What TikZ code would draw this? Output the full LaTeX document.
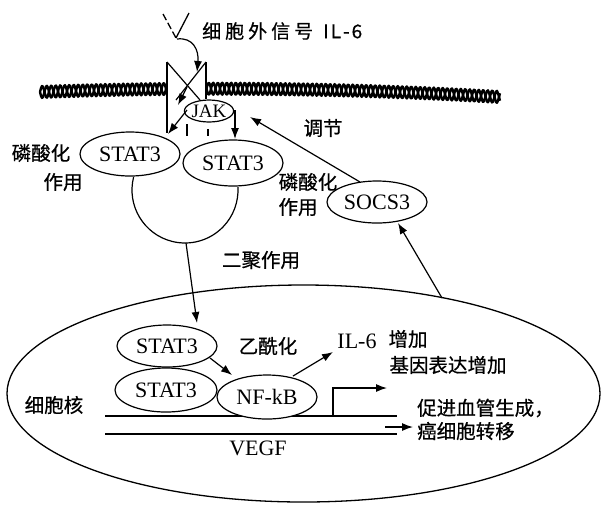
\documentclass[tikz,border=0pt]{standalone}
\usepackage{fontspec}
\setmainfont{Liberation Serif}
\newfontfamily\cjk{Noto Sans CJK SC}[FakeBold=0.6]
\usetikzlibrary{shapes.geometric,arrows.meta}

\tikzset{
  mol/.style={ellipse, draw, fill=white, line width=1.2pt, inner sep=0pt,
              font=\fontsize{22}{22}\selectfont},
  lbl/.style={font=\cjk\fontsize{19.5}{20}\selectfont, inner sep=0pt},
  lat/.style={font=\fontsize{22}{22}\selectfont, inner sep=0pt},
  arr/.style={-{Latex[length=11pt,width=8pt]}, line width=1.2pt},
  ln/.style={line width=1.2pt},
  strand/.style={line width=2.4pt, line join=round},
}

\begin{document}
\begin{tikzpicture}[x=1pt,y=-1pt]
\useasboundingbox (0,0) rectangle (601,507);

% cell membrane: two twisted strands (parameter counts turns of 9pt each)
\draw[strand] plot[domain=0:51.11, samples=460]
  ({40+9*\x}, {89 + 2.5*((9*\x-230)/230) + 5.5*((9*\x-230)/230)^2 + 6*sin(360*(\x-floor(\x)))});
\draw[strand] plot[domain=0:51.11, samples=460]
  ({40+9*\x}, {89 + 2.5*((9*\x-230)/230) + 5.5*((9*\x-230)/230)^2 - 6*sin(360*(\x-floor(\x)))});

% receptor spanning the membrane
\fill[white] (168,74) rectangle (205,106);
\draw[ln] (167,62) -- (167,133);
\draw[ln] (206,62) -- (206,99);
\draw[ln] (167,62) -- (200,100);
\draw[ln] (206,62) -- (176,100);

% ligand and its binding arrow
\draw[line width=1.3pt, dash pattern=on 7pt off 3pt] (163,14) -- (176,38);
\draw[line width=1.3pt] (176,38) -- (189,13);
\coordinate (lig) at (177,39);
\coordinate (rec) at (197,72);
\draw[arr] (lig) .. controls (193,37) and (199,50) .. (rec);
\node[lbl, anchor=west, font=\cjk\fontsize{19}{20}\selectfont] (signal) at (202,31)
  {细\hspace{4pt}胞\hspace{4pt}外\hspace{4pt}信\hspace{4pt}号\hspace{10pt}I\hspace{2pt}L\hspace{2pt}-\hspace{2pt}6};

% JAK and the cytoplasmic STAT3 pair
\node[mol, minimum width=48pt, minimum height=22pt, font=\fontsize{19}{19}\selectfont]
  (jak) at (209,111) {JAK};
\node[mol, minimum width=100pt, minimum height=44pt] (lstat) at (130,154) {STAT3};
\node[mol, minimum width=100pt, minimum height=46pt] (rstat) at (233,163) {STAT3};

\coordinate (xr) at (187,87);
\coordinate (xa) at (178,105);
\coordinate (la) at (168,134);
\coordinate (ra) at (235,139);
\draw[arr] (xr) -- (xa);
\draw[arr] (187,110) -- (la);
\draw[arr] (jak.east) -| (ra);
\draw[ln] (187,124) -- (187,136);
\draw[ln] (208,129) -- (208,136);

\node[lbl] (ph1) at (41,153) {磷酸化};
\node[lbl] (ph1b) at (63,182) {作用};

% dimerisation loop
\draw[ln] (185,190) ++(194:53) arc[start angle=194, end angle=-3, radius=53];
\coordinate (dimer) at (186,243);
\node[lbl] (dim) at (261,260) {二聚作用};

% SOCS3 feedback
\node[mol, minimum width=100pt, minimum height=42pt] (socs) at (377,202) {SOCS3};
\node[lbl] (ph2) at (308,182) {磷酸化};
\node[lbl] (ph2b) at (298,207) {作用};
\node[lbl] (reg) at (323,128) {调节};
\coordinate (jr) at (250,117);
\coordinate (sq) at (360,182);
\draw[arr] (sq) -- (jr);

% nucleus
\node[ellipse, draw, line width=1.3pt, minimum width=593pt, minimum height=217pt,
      inner sep=0pt] (nuc) at (303.5,393.5) {};
\node[lbl] (nl) at (54,405) {细胞核};
\coordinate (nq) at (442,298);
\coordinate (sb) at (398,223);
\draw[arr] (nq) -- (sb);

% DNA and VEGF gene
\coordinate (d1a) at (105,416); \coordinate (d1b) at (397,416);
\coordinate (d2a) at (105,434); \coordinate (d2b) at (397,434);
\draw[ln] (d1a) -- (d1b);
\draw[ln] (d2a) -- (d2b);
\node[lat] (vegf) at (258,448) {VEGF};
\coordinate (pb) at (333,416);
\coordinate (pt) at (387,388);
\draw[arr] (pb) |- (pt);
\coordinate (ma) at (385,427);
\coordinate (mb) at (413,427);
\draw[arr] (ma) -- (mb);

% nuclear STAT3 / NF-kB complex
\coordinate (ntip) at (197,323);
\draw[arr] (dimer) -- (ntip);
\node[mol, minimum width=100pt, minimum height=42pt] (nsa) at (167,346) {STAT3};
\node[mol, minimum width=102pt, minimum height=44pt] (nsb) at (166,390) {STAT3};
\node[mol, minimum width=100pt, minimum height=44pt] (nf) at (267,397) {NF-kB};
\node[lbl] (ac) at (268,346) {乙酰化};
\node[lat] (il6) at (357,341) {IL-6};
\coordinate (nsq) at (210,358);
\coordinate (nfa) at (232,375);
\coordinate (nfq) at (293,376);
\coordinate (ila) at (333,352);
\draw[arr] (nsq) -- (nfa);
\draw[arr] (nfq) -- (ila);

% outcome labels
\node[lbl] (inc) at (408,339) {增加};
\node[lbl] (expr) at (448,365) {基因表达增加};
\node[lbl, anchor=west] (ang) at (417,408) {促进血管生成，};
\node[lbl, anchor=west] (met) at (417,431) {癌细胞转移};
\end{tikzpicture}
\end{document}
